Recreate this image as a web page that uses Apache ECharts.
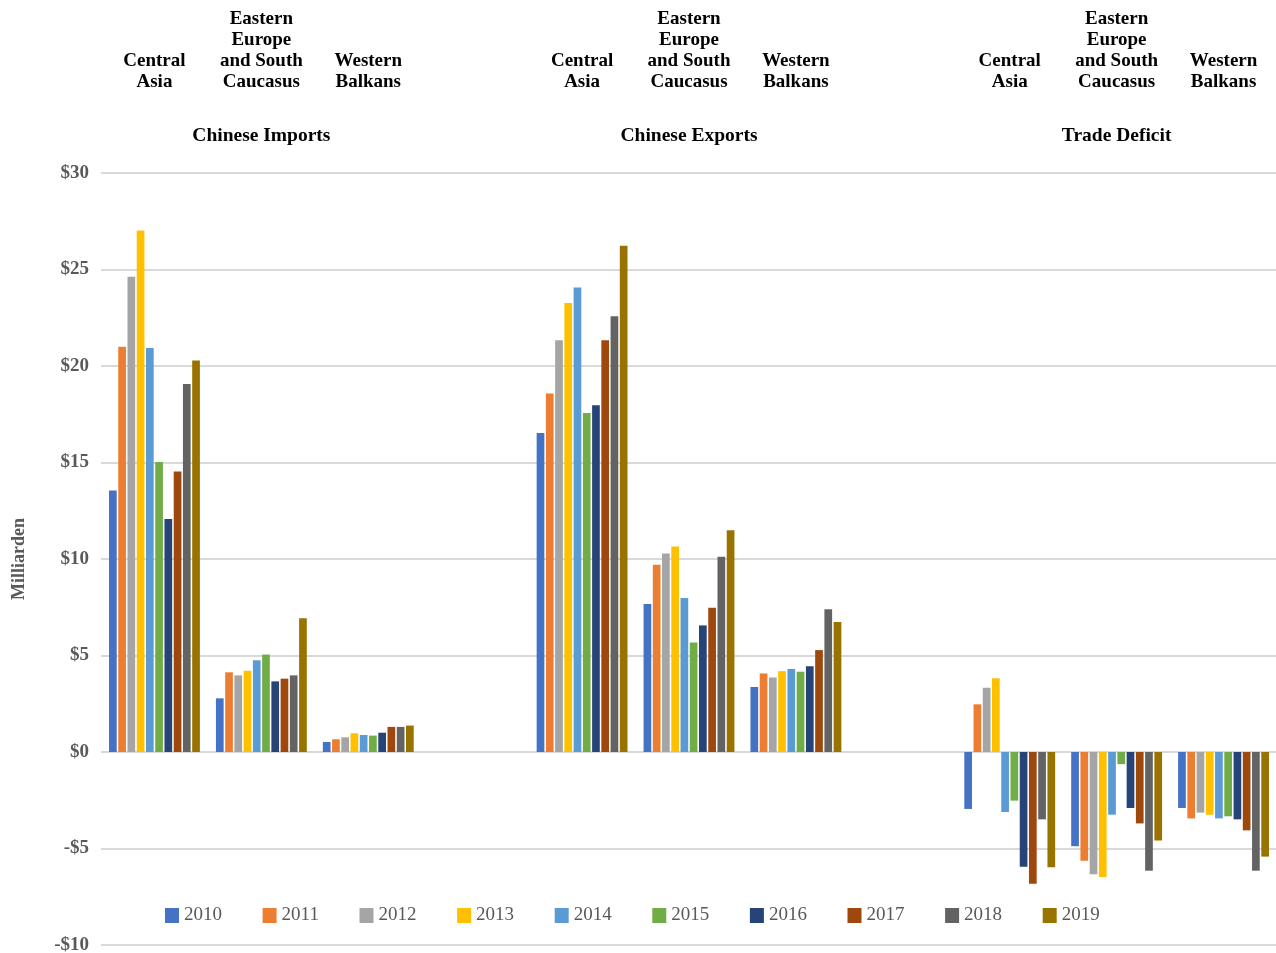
<!DOCTYPE html>
<html>
<head>
<meta charset="utf-8">
<script src="https://cdn.jsdelivr.net/npm/echarts@6/dist/echarts.min.js"></script>
<style>html,body{margin:0;padding:0;background:#fff}#c{width:1276px;height:953px}</style>
</head>
<body>
<div id="c"></div>
<script>
var years = ['2010','2011','2012','2013','2014','2015','2016','2017','2018','2019'];
var regionLabels = ['Central\nAsia', 'Eastern\nEurope\nand South\nCaucasus', 'Western\nBalkans'];
var groupLabels = ['Chinese Imports', 'Chinese Exports', 'Trade Deficit'];
var colors = ['#4472C4','#ED7D31','#A5A5A5','#FFC000','#5B9BD5','#70AD47','#264478','#9E480E','#636363','#997300'];
var yTicks = {min: -10, max: 30, interval: 5};

var importsCA   = [13.55, 21.0, 24.63, 27.02, 20.93, 15.02, 12.07, 14.54, 19.07, 20.29];
var importsEESC = [2.78, 4.13, 3.97, 4.21, 4.75, 5.05, 3.66, 3.80, 3.97, 6.93];
var importsWB   = [0.52, 0.66, 0.76, 0.97, 0.88, 0.85, 1.00, 1.30, 1.30, 1.37];
var exportsCA   = [16.53, 18.58, 21.33, 23.26, 24.07, 17.56, 17.96, 21.33, 22.58, 26.23];
var exportsEESC = [7.67, 9.70, 10.28, 10.65, 7.98, 5.67, 6.56, 7.47, 10.12, 11.49];
var exportsWB   = [3.37, 4.07, 3.86, 4.19, 4.30, 4.16, 4.44, 5.28, 7.40, 6.74];
var deficitCA   = [-2.95, 2.47, 3.33, 3.82, -3.11, -2.52, -5.94, -6.82, -3.49, -5.97];
var deficitEESC = [-4.88, -5.64, -6.34, -6.48, -3.25, -0.63, -2.90, -3.70, -6.15, -4.58];
var deficitWB   = [-2.90, -3.44, -3.14, -3.25, -3.44, -3.33, -3.49, -4.06, -6.15, -5.42];

var groups = [[importsCA, importsEESC, importsWB], [exportsCA, exportsEESC, exportsWB], [deficitCA, deficitEESC, deficitWB]];

var xCats = [], xGroupCats = [];
groups.forEach(function(g, gi){
  regionLabels.forEach(function(r, ri){
    xCats.push(r);
    xGroupCats.push(ri === 1 ? groupLabels[gi] : '');
  });
  if (gi < groups.length - 1) { xCats.push(' '); xGroupCats.push(' '); }
});

var FONT = 'Liberation Serif';
var series = years.map(function(y, yi){
  var d = [];
  groups.forEach(function(g, gi){
    g.forEach(function(arr){ d.push(arr[yi]); });
    if (gi < groups.length - 1) d.push('-');
  });
  return {
    name: y, type: 'bar', data: d, xAxisIndex: 0,
    itemStyle: {color: colors[yi]},
    barGap: '20%', barCategoryGap: '15%'
  };
});

var chart = echarts.init(document.getElementById('c'), null, {renderer: 'canvas'});
chart.setOption({
  animation: false,
  color: colors,
  grid: {left: 101, right: -1, top: 173, bottom: 8, containLabel: false, outerBoundsMode: 'none'},
  legend: {
    top: 901, left: 160, itemWidth: 14, itemHeight: 15, itemGap: 40.6,
    icon: 'rect',
    textStyle: {fontFamily: FONT, fontSize: 19, color: '#595959'},
    data: years
  },
  xAxis: [{
    type: 'category', position: 'top', data: xCats,
    axisLine: {show: false, onZero: false}, axisTick: {show: false},
    axisLabel: {interval: 0, margin: 80, fontFamily: FONT, fontWeight: 'bold', fontSize: 19, lineHeight: 21, color: '#000'}
  }, {
    type: 'category', position: 'top', data: xGroupCats,
    axisLine: {show: false, onZero: false}, axisTick: {show: false},
    axisLabel: {interval: 0, margin: 27, fontFamily: FONT, fontWeight: 'bold', fontSize: 19.5, color: '#000'}
  }],
  yAxis: {
    type: 'value', min: yTicks.min, max: yTicks.max, interval: yTicks.interval,
    name: 'Milliarden', nameLocation: 'middle', nameGap: 73,
    nameTextStyle: {fontFamily: FONT, fontWeight: 'bold', fontSize: 18, color: '#595959'},
    axisLine: {show: false}, axisTick: {show: false},
    axisLabel: {margin: 12, fontFamily: FONT, fontWeight: 'bold', fontSize: 19, color: '#595959',
      formatter: function(v){ return v < 0 ? '-$' + Math.abs(v) : '$' + v; }},
    splitLine: {lineStyle: {color: '#D9D9D9', width: 2}}
  },
  series: series
});
</script>
</body>
</html>
